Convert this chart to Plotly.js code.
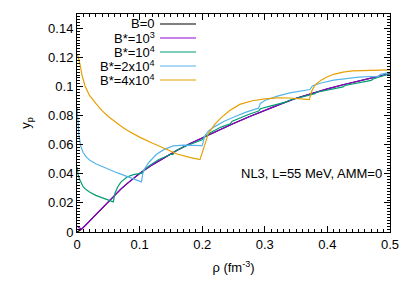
<!DOCTYPE html>
<html><head><meta charset="utf-8">
<script src="https://cdn.plot.ly/plotly-3.0.1.min.js"></script>
<style>html,body{margin:0;padding:0;background:#fff}#c{width:415px;height:291px}</style>
</head><body><div id="c"></div>
<script>
// Series names
var seriesNames = ["B=0", "B*=10<sup>3</sup>", "B*=10<sup>4</sup>", "B*=2x10<sup>4</sup>", "B*=4x10<sup>4</sup>"];
var seriesColors = ["#000000", "#9400d3", "#009e73", "#56b4e9", "#e69f00"];

// B=0
var rhoB0 = [0, 0.005, 0.01, 0.02, 0.03, 0.04, 0.05, 0.06, 0.07, 0.08, 0.09, 0.1, 0.12, 0.14, 0.16, 0.18, 0.2, 0.225, 0.25, 0.275, 0.3, 0.325, 0.35, 0.375, 0.4, 0.425, 0.45, 0.475, 0.5];
var ypB0  = [0, 0.0012, 0.003, 0.0075, 0.012, 0.0165, 0.021, 0.0255, 0.0295, 0.0333, 0.0368, 0.0402, 0.0462, 0.0515, 0.0563, 0.0607, 0.0648, 0.0698, 0.0746, 0.0793, 0.0838, 0.088, 0.092, 0.0955, 0.0985, 0.1013, 0.104, 0.1065, 0.109];

// B*=1e3
var rhoB1 = [0, 0.003, 0.0075, 0.012, 0.02, 0.03, 0.04, 0.05, 0.06, 0.07, 0.08, 0.09, 0.1, 0.12, 0.14, 0.16, 0.18, 0.2, 0.225, 0.25, 0.275, 0.3, 0.325, 0.35, 0.375, 0.4, 0.425, 0.45, 0.475, 0.5];
var ypB1  = [0.0042, 0.003, 0.0021, 0.0038, 0.0075, 0.012, 0.0165, 0.021, 0.0255, 0.0295, 0.0333, 0.0368, 0.0402, 0.0462, 0.0515, 0.0563, 0.0607, 0.0648, 0.0698, 0.0746, 0.0793, 0.0838, 0.088, 0.092, 0.0955, 0.0985, 0.1013, 0.104, 0.1065, 0.109];

// B*=1e4
var rhoB2 = [0, 0.002, 0.005, 0.01, 0.015, 0.02, 0.03, 0.04, 0.05, 0.058, 0.0605, 0.065, 0.07, 0.08, 0.09, 0.1, 0.104, 0.107, 0.115, 0.13, 0.15, 0.153, 0.157, 0.17, 0.19, 0.2, 0.203, 0.215, 0.23, 0.245, 0.248, 0.26, 0.275, 0.29, 0.293, 0.31, 0.335, 0.338, 0.36, 0.38, 0.383, 0.4, 0.425, 0.428, 0.45, 0.47, 0.473, 0.5];
var ypB2  = [0.0447, 0.039, 0.0355, 0.031, 0.029, 0.0275, 0.0252, 0.0235, 0.022, 0.0207, 0.0265, 0.031, 0.0343, 0.0378, 0.0395, 0.0403, 0.0405, 0.0428, 0.0455, 0.0497, 0.0535, 0.0533, 0.0558, 0.0585, 0.0622, 0.0635, 0.0652, 0.0688, 0.0722, 0.0745, 0.0762, 0.0785, 0.081, 0.0832, 0.0848, 0.0868, 0.0895, 0.0905, 0.0928, 0.0952, 0.0962, 0.0978, 0.0998, 0.1008, 0.1028, 0.1043, 0.1053, 0.109];

// B*=2e4
var rhoB3 = [0, 0.001, 0.003, 0.006, 0.01, 0.015, 0.02, 0.03, 0.04, 0.05, 0.06, 0.07, 0.08, 0.09, 0.1, 0.103, 0.105, 0.108, 0.115, 0.127, 0.14, 0.154, 0.17, 0.185, 0.2, 0.204, 0.21, 0.22, 0.235, 0.25, 0.27, 0.29, 0.293, 0.3, 0.32, 0.34, 0.36, 0.372, 0.376, 0.39, 0.41, 0.43, 0.45, 0.47, 0.481, 0.485, 0.5];
var ypB3  = [0.086, 0.078, 0.067, 0.059, 0.0545, 0.0515, 0.0495, 0.047, 0.045, 0.0432, 0.0415, 0.0398, 0.0382, 0.0365, 0.035, 0.0345, 0.040, 0.0435, 0.048, 0.0535, 0.057, 0.0593, 0.0598, 0.0597, 0.0594, 0.066, 0.0695, 0.0725, 0.0762, 0.079, 0.0825, 0.0852, 0.0885, 0.0905, 0.0935, 0.0957, 0.0973, 0.098, 0.1005, 0.1025, 0.1045, 0.1058, 0.1066, 0.107, 0.1068, 0.1085, 0.1098];

// B*=4e4
var rhoB4 = [0, 0.002, 0.005, 0.008, 0.0128, 0.02, 0.03, 0.04, 0.05, 0.06, 0.07, 0.08, 0.09, 0.1, 0.12, 0.14, 0.16, 0.18, 0.1965, 0.21, 0.22, 0.23, 0.244, 0.26, 0.28, 0.3, 0.32, 0.34, 0.36, 0.371, 0.375, 0.38, 0.39, 0.4, 0.41, 0.425, 0.44, 0.46, 0.48, 0.5];
var ypB4  = [0.1225, 0.1205, 0.115, 0.108, 0.1005, 0.094, 0.0885, 0.0835, 0.0795, 0.076, 0.073, 0.070, 0.0675, 0.0653, 0.0612, 0.0572, 0.0537, 0.0514, 0.0498, 0.068, 0.074, 0.0785, 0.0836, 0.0878, 0.0903, 0.0916, 0.0923, 0.0922, 0.0916, 0.0911, 0.097, 0.101, 0.1045, 0.1068, 0.1085, 0.1100, 0.1108, 0.1112, 0.1114, 0.1115];

var rhoData = [rhoB0, rhoB1, rhoB2, rhoB3, rhoB4];
var ypData  = [ypB0, ypB1, ypB2, ypB3, ypB4];

var xTickVals = [0, 0.1, 0.2, 0.3, 0.4, 0.5];
var xTickText = ["0", "0.1", "0.2", "0.3", "0.4", "0.5"];
var yTickVals = [0, 0.02, 0.04, 0.06, 0.08, 0.1, 0.12, 0.14];
var yTickText = ["0", "0.02", "0.04", "0.06", "0.08", "0.1", "0.12", "0.14"];

var FONT = "Liberation Sans, Arial, Helvetica, sans-serif";

var traces = [];
for (var i = 0; i < rhoData.length; i++) {
  traces.push({
    x: rhoData[i], y: ypData[i], type: "scatter", mode: "lines",
    name: seriesNames[i], showlegend: false,
    line: {color: seriesColors[i], width: 1.2}
  });
}

// custom legend (text right of which sits the sample line)
var annotations = [];
var shapes = [];
var legTop = 24, legStep = 14;
for (var j = 0; j < seriesNames.length; j++) {
  var yy = legTop + j * legStep;
  annotations.push({
    xref: "paper", yref: "paper", x: (157 - 77) / 313, y: 1 - (yy - 14) / 218,
    xanchor: "right", yanchor: "middle", showarrow: false,
    text: seriesNames[j], font: {family: FONT, size: 13, color: "#000"}
  });
  shapes.push({
    type: "line", xref: "paper", yref: "paper",
    x0: (160 - 77) / 313, x1: (196 - 77) / 313,
    y0: 1 - (yy - 14) / 218, y1: 1 - (yy - 14) / 218,
    line: {color: seriesColors[j], width: 1.2}
  });
}
annotations.push({
  xref: "paper", yref: "paper", x: (384 - 77) / 313, y: 1 - (173 - 14) / 218,
  xanchor: "right", yanchor: "middle", showarrow: false,
  text: "NL3, L=55 MeV, AMM=0", font: {family: FONT, size: 13, color: "#000"}
});

var axCommon = {
  showline: true, linecolor: "#000", linewidth: 1, mirror: "allticks",
  ticks: "inside", ticklen: 6, tickwidth: 1, tickcolor: "#000",
  showgrid: false, zeroline: false,
  tickfont: {family: FONT, size: 13, color: "#000"},
  tickmode: "array"
};

var layout = {
  width: 415, height: 291,
  margin: {l: 77, r: 25, t: 14, b: 59},
  paper_bgcolor: "#fff", plot_bgcolor: "#fff",
  showlegend: false,
  xaxis: Object.assign({}, axCommon, {
    range: [0, 0.5], tickvals: xTickVals, ticktext: xTickText,
    minor: {dtick: 0.01, ticks: "inside", ticklen: 3, tickcolor: "#000", showgrid: false},
    title: {text: "ρ (fm<sup>-3</sup>)", font: {family: FONT, size: 13, color: "#000"}, standoff: 12}
  }),
  yaxis: Object.assign({}, axCommon, {
    range: [0, 0.15], tickvals: yTickVals, ticktext: yTickText,
    minor: {dtick: 0.002, ticks: "inside", ticklen: 3, tickcolor: "#000", showgrid: false},
    title: {text: "y<sub>p</sub>", font: {family: FONT, size: 13, color: "#000"}, standoff: 14}
  }),
  annotations: annotations,
  shapes: shapes
};

Plotly.newPlot("c", traces, layout, {staticPlot: true, displayModeBar: false});
</script></body></html>
